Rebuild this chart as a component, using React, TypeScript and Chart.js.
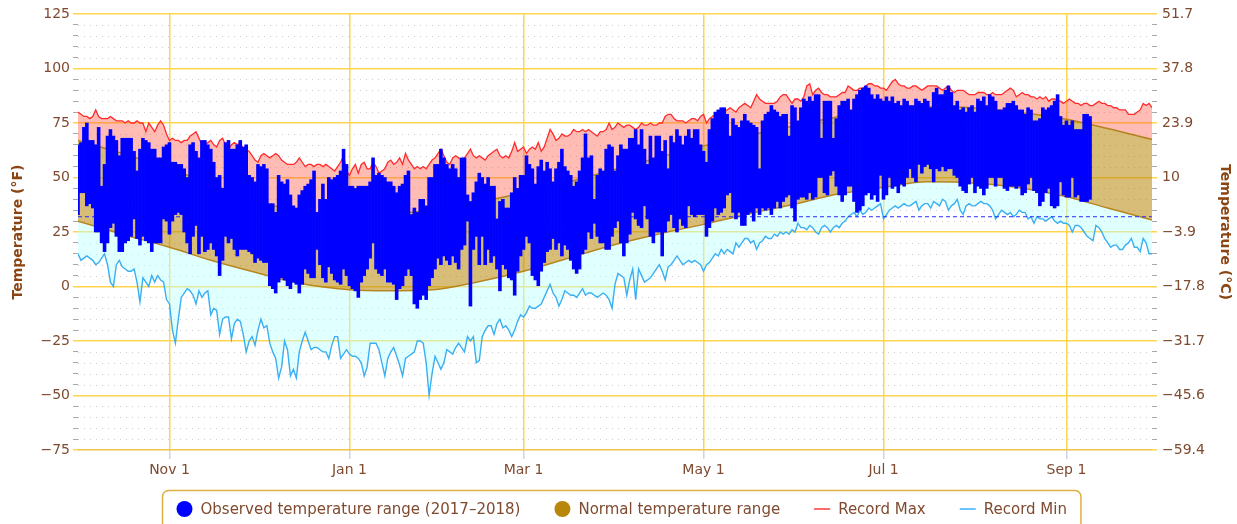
import React, { useEffect, useRef } from 'react';
import { Chart, registerables } from 'chart.js';

Chart.register(...registerables);

// ---------- DATA (day index 0 = Oct 1 2017, 364 = Sep 30 2018) ----------
const DAY_COUNT = 365;

const OBS_HIGH = [
  65,66,73,75,67,67,65,73,46,56, 69,72,69,67,60,68,68,68,68,62,
  53,63,68,67,66,63,63,59,59,64, 65,66,57,57,56,56,54,50,65,66,
  62,59,67,67,65,63,57,50,51,45, 66,67,63,63,65,67,64,
  65,51,50,48,56,55,56,54,38,38, 34,51,48,47,49,42,37,36,42,44,
  46,47,49,53,34,40,47,40,50,49, 50,51,53,63,56,46,46,45,46,46,
  46,46,48,59,51,52,51,50,48,48, 46,43,46,47,51,53,33,36,
  34,40,40,37,50,50,56,56,63,59, 56,54,56,54,50,59,59,42,39,43,
  48,52,50,47,50,46,46,31,39,40, 36,36,43,50,45,51,51,60,56,54,
  47,55,58,53,57,54,48,54,57,63, 55,53,51,46,48,53,59,
  70,59,60,40,51,54,53,63,65,64, 53,60,65,63,63,68,68,72,65,72,
  63,56,69,59,69,69,62,67,54,69, 66,72,69,65,69,72,68,72,72,65,
  62,57,72,77,80,81,82,82,79,69, 77,74,73,76,79,76,75,
  74,73,54,76,79,80,83,81,80,78, 79,79,69,83,82,76,82,86,85,87,
  85,88,88,68,85,85,85,68,77,83, 85,85,86,81,86,88,90,91,92,91,
  88,86,88,86,85,87,85,87,84,85, 83,86,85,83,83,86,85,
  84,86,
  85,82,89,91,88,88,90,92,89,83, 85,81,82,80,82,83,80,86,85,87,
  83,88,87,85,81,81,82,84,84,85, 83,81,81,79,82,81,76,76,77,82,
  81,82,83,85,88,78,74,76,74,76, 72,72,72,79,79,78,
];

const OBS_LOW = [
  33,43,43,37,38,36,25,25,20,16, 20,27,29,23,16,16,20,21,23,31,
  22,19,23,21,20,16,20,20,20,31, 30,24,30,33,34,33,25,20,15,23,
  28,15,23,16,17,20,17,14,5,12, 23,20,22,17,14,17,17,
  17,16,15,11,13,12,11,11,0,-1, -3,2,4,3,0,-1,2,1,-3,1,
  8,6,4,4,17,10,4,2,9,6, 3,2,1,8,5,0,-1,-2,-5,2,
  5,8,13,20,8,6,5,8,2,2, 1,-6,-1,0,5,8,5,-8,
  -10,-6,-4,-6,0,4,8,13,10,14, 12,10,14,11,8,17,19,30,-9,17,
  23,10,23,10,17,11,14,8,-2,10, 8,4,3,-4,7,14,17,23,20,5,
  3,0,7,11,16,17,22,17,20,14, 19,17,12,8,6,8,15,
  17,25,22,29,23,20,20,17,17,23, 27,30,20,14,20,24,34,31,28,27,
  37,31,23,20,25,25,14,25,30,33, 27,25,31,28,27,37,33,32,33,33,
  33,23,27,30,36,33,34,36,42,43, 34,31,34,28,28,33,34,
  30,36,33,36,35,36,33,36,39,36, 39,41,42,36,30,40,41,41,40,43,
  40,41,50,50,43,42,51,53,46,42, 39,42,46,46,39,34,35,37,42,43,
  40,42,39,51,40,42,50,45,46,43, 47,46,50,54,50,48,56,
  52,55,
  56,54,48,54,53,55,53,54,54,51, 50,46,44,43,47,50,43,46,45,42,
  45,50,50,46,50,50,45,44,46,46, 45,46,42,43,47,50,44,43,37,39,
  43,45,37,36,37,48,42,41,41,50, 41,42,39,39,39,40,
];

const RECORD_MAX = [
  80,79,78,78,77,78,81,78,77,77, 77,78,77,76,76,76,75,76,75,75,
  76,75,75,71,75,73,71,74,76,74, 70,67,68,67,67,66,67,67,69,70,
  71,68,65,65,66,67,65,64,67,68, 65,63,65,66,65,66,63,63,62,60,
  58,57,60,61,60,59,60,61,60,58, 57,56,56,56,57,59,57,55,56,56,
  55,56,56,55,56,55,54,53,55,57, 60,53,51,54,56,52,56,57,54,54,
  57,55,52,53,54,57,58,56,57,59, 56,61,58,56,54,55,54,55,54,56,
  58,59,61,63,60,57,56,59,60,59, 58,59,61,63,60,59,60,59,58,60,
  61,62,63,60,59,60,59,62,66,62, 63,64,61,63,64,63,66,62,64,68,
  72,70,67,68,70,69,69,70,72,71, 71,72,71,72,71,70,69,71,71,72,
  75,72,73,75,74,73,74,74,73,72, 73,75,74,74,75,74,74,75,75,78,
  79,79,77,76,76,76,75,76,77,77, 76,78,79,75,77,78,79,79,79,80,
  81,82,81,80,82,83,84,83,82,85, 88,86,85,84,84,84,84,85,87,88,
  88,86,84,86,86,85,87,92,93,88, 90,91,89,88,88,87,87,87,88,89,
  89,92,91,90,90,91,91,92,93,93, 92,92,91,91,90,92,94,95,93,92,
  92,91,91,92,92,91,90,91,92,92, 92,92,91,90,91,92,90,89,90,90,
  90,89,88,88,88,89,89,89,88,88, 89,88,88,88,89,90,91,90,87,88,
  89,88,88,87,87,86,87,86,87,85, 86,86,85,85,84,85,86,85,84,84,
  83,84,84,83,83,84,85,84,84,83, 83,82,82,81,81,81,79,79,79,80,
  81,84,83,84,82,
];

const RECORD_MIN = [
  15,12,13,14,13,12,10,11,13,15, 10,2,0,10,12,9,8,7,7,8,
  2,-7,4,2,0,5,2,5,3,2, -6,-8,-20,-26,-15,-5,-3,-1,-2,-4,
  -8,-2,-5,-3,-2,-13,-10,-11,-22,-15, -14,-14,-24,-17,-15,-16,-22,-30,-25,-23,
  -27,-20,-15,-19,-18,-26,-30,-33,-42,-37, -25,-29,-41,-38,-42,-30,-25,-21,-25,-29,
  -28,-28,-29,-30,-30,-33,-27,-23,-23,-33, -31,-29,-31,-32,-32,-33,-35,-41,-37,-26,
  -26,-26,-29,-35,-41,-33,-30,-28,-32,-36, -41,-33,-32,-31,-30,-25,-25,-26,-35,-50,
  -40,-32,-35,-38,-35,-29,-30,-31,-28,-26, -28,-30,-23,-25,-23,-35,-34,-23,-20,-18,
  -18,-22,-17,-15,-19,-18,-20,-23,-20,-16, -13,-14,-12,-9,-10,-10,-9,-8,-5,-2,
  1,-3,-5,-9,-6,-2,-3,-4,-4,-5, -3,-1,-4,-3,-3,-4,-5,-4,-3,-4,
  -6,-10,1,6,5,4,-4,3,8,-6, 8,5,2,3,4,6,8,10,7,3,
  9,10,12,14,12,10,11,12,11,12, 11,10,7,10,11,13,15,14,17,15,
  17,16,15,20,18,20,22,22,20,21, 17,20,21,23,22,22,24,23,25,24,
  25,24,26,25,29,27,27,26,28,27, 25,24,27,28,27,25,27,28,27,29,
  30,32,33,34,32,35,33,34,36,35, 36,37,38,31,33,35,36,37,36,37,
  38,37,37,38,39,35,37,38,38,36, 39,38,37,40,39,35,37,38,40,35,
  33,37,38,37,37,38,39,38,38,37, 35,31,33,35,34,33,34,32,33,35,
  34,34,31,32,29,32,31,31,30,31, 32,30,29,30,29,29,28,25,28,28,
  27,25,23,22,21,28,27,25,22,20, 18,19,19,17,17,19,20,22,18,18,
  16,22,20,15,15,
];

const NORMAL_DAYS = [0, 15, 31, 45, 60, 75, 92, 105, 120, 135, 151, 165, 180, 195, 212, 228, 242, 258, 273, 288, 303, 318, 334, 349, 364];
const NORMAL_HIGH = [67, 61, 54, 47, 39.5, 34.5, 33, 33.5, 35, 38.5, 43, 47.5, 53, 58.5, 64.5, 69.5, 73.5, 78, 81, 82.5, 82, 80, 77, 72.5, 67.5];
const NORMAL_LOW = [30, 24, 18, 12, 6.5, 1.5, -1.5, -2, -1.5, 2, 7, 12.5, 18.5, 23.5, 28.5, 33.5, 37.5, 42.5, 45.5, 48, 47.5, 45.5, 41.5, 36, 30.5];

const FREEZING_F = 32;

const X_TICK_DAYS = [31, 92, 151, 212, 273, 335];
const X_TICK_LABELS = ['Nov 1', 'Jan 1', 'Mar 1', 'May 1', 'Jul 1', 'Sep 1'];

const Y_MIN = -75;
const Y_MAX = 125;
const Y_STEP = 5;
const Y_MAJOR = 25;

const LABEL_OBSERVED = 'Observed temperature range (2017–2018)';
const LABEL_NORMAL = 'Normal temperature range';
const LABEL_REC_MAX = 'Record Max';
const LABEL_REC_MIN = 'Record Min';

// ---------- STYLE ----------
const FONT = '"DejaVu Sans", sans-serif';
const LABEL_BROWN = '#7F4A2F';
const TITLE_BROWN = '#8B4513';
const GRID_YELLOW = '#FFD54F';
const MINOR_TICK = '#A8A8A8';

const minus = (s: string) => s.replace('-', '\u2212');
const fmtF = (v: number) => minus(String(v));
const fmtC = (v: number) => {
  let s = (((v - 32) * 5) / 9).toFixed(1);
  if (s.endsWith('.0')) s = s.slice(0, -2);
  return minus(s);
};
const isMajor = (c: any) => !!c.tick && c.tick.value % Y_MAJOR === 0;

const minorGridPlugin = {
  id: 'minorGrid',
  beforeDatasetsDraw(chart: any) {
    const { ctx, chartArea, scales } = chart;
    const y = scales.y;
    ctx.save();
    ctx.strokeStyle = 'rgba(140,140,140,0.45)';
    ctx.lineWidth = 1;
    ctx.setLineDash([1, 5]);
    for (const t of y.ticks) {
      if (t.value % Y_MAJOR === 0) continue;
      const py = Math.round(y.getPixelForValue(t.value)) + 0.5;
      ctx.beginPath();
      ctx.moveTo(chartArea.left, py);
      ctx.lineTo(chartArea.right, py);
      ctx.stroke();
    }
    ctx.restore();
  },
};

const legendPlugin = {
  id: 'boxLegend',
  afterDraw(chart: any) {
    const { ctx } = chart;
    const items = [
      { label: LABEL_OBSERVED, kind: 'circle', color: '#0000FF' },
      { label: LABEL_NORMAL, kind: 'circle', color: '#B8860B' },
      { label: LABEL_REC_MAX, kind: 'line', color: '#FF6A6A' },
      { label: LABEL_REC_MIN, kind: 'line', color: '#6CC4FF' },
    ];
    ctx.save();
    ctx.font = `15px ${FONT}`;
    const symW = 16;
    const symGap = 8;
    const itemGap = 34;
    const widths = items.map((it) => ctx.measureText(it.label).width);
    const total = widths.reduce((a: number, w: number) => a + symW + symGap + w, 0) + itemGap * (items.length - 1);
    const padX = 14;
    const boxW = total + padX * 2;
    const cx = 621;
    const boxL = Math.round(cx - boxW / 2) + 0.5;
    const boxT = 490.5;
    const boxH = 44;
    const r = 6;
    ctx.beginPath();
    ctx.moveTo(boxL + r, boxT);
    ctx.lineTo(boxL + boxW - r, boxT);
    ctx.arcTo(boxL + boxW, boxT, boxL + boxW, boxT + r, r);
    ctx.lineTo(boxL + boxW, boxT + boxH - r);
    ctx.arcTo(boxL + boxW, boxT + boxH, boxL + boxW - r, boxT + boxH, r);
    ctx.lineTo(boxL + r, boxT + boxH);
    ctx.arcTo(boxL, boxT + boxH, boxL, boxT + boxH - r, r);
    ctx.lineTo(boxL, boxT + r);
    ctx.arcTo(boxL, boxT, boxL + r, boxT, r);
    ctx.closePath();
    ctx.strokeStyle = '#DDB044';
    ctx.lineWidth = 1.5;
    ctx.stroke();

    const cy = 509;
    let x = boxL + padX;
    items.forEach((it, i) => {
      if (it.kind === 'circle') {
        ctx.beginPath();
        ctx.arc(x + symW / 2, cy, 8, 0, Math.PI * 2);
        ctx.fillStyle = it.color;
        ctx.fill();
      } else {
        ctx.beginPath();
        ctx.moveTo(x, cy);
        ctx.lineTo(x + symW, cy);
        ctx.strokeStyle = it.color;
        ctx.lineWidth = 2;
        ctx.stroke();
      }
      ctx.fillStyle = LABEL_BROWN;
      ctx.textBaseline = 'middle';
      ctx.textAlign = 'left';
      ctx.fillText(it.label, x + symW + symGap, cy + 1);
      x += symW + symGap + widths[i] + itemGap;
    });
    ctx.restore();
  },
};

export default function App() {
  const ref = useRef<HTMLCanvasElement>(null);

  useEffect(() => {
    document.body.style.margin = '0';
    document.body.style.background = '#ffffff';
    Chart.defaults.font.family = FONT;

    const normalLine = (vals: number[]) => NORMAL_DAYS.map((d, i) => ({ x: d, y: vals[i] }));
    const daily = (vals: number[]) => vals.map((v, i) => ({ x: i, y: v }));

    const chart = new Chart(ref.current as HTMLCanvasElement, {
      type: 'line',
      data: {
        datasets: [
          {
            type: 'bar',
            label: LABEL_OBSERVED,
            data: OBS_HIGH.map((h, i) => ({ x: i, y: [OBS_LOW[i], h] })) as any,
            backgroundColor: '#0000FF',
            borderWidth: 0,
            barPercentage: 1,
            categoryPercentage: 1,
            order: 1,
          } as any,
          {
            label: 'Freezing',
            data: [{ x: 0, y: FREEZING_F }, { x: DAY_COUNT - 1, y: FREEZING_F }],
            borderColor: '#2B2BFF',
            borderWidth: 1,
            borderDash: [4, 3],
            pointRadius: 0,
            fill: false,
            order: 2,
          },
          {
            label: LABEL_NORMAL,
            data: normalLine(NORMAL_HIGH),
            borderColor: 'rgba(176,122,18,0.9)',
            borderWidth: 1.5,
            pointRadius: 0,
            cubicInterpolationMode: 'monotone',
            fill: { target: 3 },
            backgroundColor: 'rgba(184,134,11,0.55)',
            order: 3,
          },
          {
            label: 'Normal Low',
            data: normalLine(NORMAL_LOW),
            borderColor: 'rgba(176,122,18,0.9)',
            borderWidth: 1.5,
            pointRadius: 0,
            cubicInterpolationMode: 'monotone',
            fill: false,
            order: 3,
          },
          {
            label: LABEL_REC_MAX,
            data: daily(RECORD_MAX),
            borderColor: '#FF2B2B',
            borderWidth: 1.3,
            pointRadius: 0,
            tension: 0,
            fill: { target: 2 },
            backgroundColor: 'rgba(255,80,60,0.38)',
            order: 4,
          },
          {
            label: LABEL_REC_MIN,
            data: daily(RECORD_MIN),
            borderColor: '#3AAFF2',
            borderWidth: 1.4,
            pointRadius: 0,
            tension: 0,
            fill: { target: 3 },
            backgroundColor: 'rgba(190,255,255,0.48)',
            order: 5,
          },
        ] as any,
      },
      options: {
        responsive: false,
        animation: false,
        events: [],
        layout: { padding: { top: 14, bottom: 34, left: 0, right: 0 } },
        plugins: {
          legend: { display: false },
          tooltip: { enabled: false },
        },
        scales: {
          x: {
            type: 'linear',
            min: 0,
            max: DAY_COUNT - 1,
            offset: false,
            afterBuildTicks: (s: any) => {
              s.ticks = X_TICK_DAYS.map((v) => ({ value: v }));
            },
            afterFit: (s: any) => {
              s.height = 40;
            },
            ticks: {
              autoSkip: false,
              maxRotation: 0,
              color: LABEL_BROWN,
              font: { family: FONT, size: 14 },
              padding: 3,
              callback: (v: any) => {
                const i = X_TICK_DAYS.indexOf(Number(v));
                return i >= 0 ? X_TICK_LABELS[i] : '';
              },
            },
            grid: {
              color: GRID_YELLOW,
              lineWidth: 1.5,
              tickColor: '#C9D5EA',
              tickLength: 9,
              offset: false,
            },
            border: { display: false },
          },
          y: {
            type: 'linear',
            position: 'left',
            min: Y_MIN,
            max: Y_MAX,
            afterFit: (s: any) => {
              s.width = 78;
            },
            ticks: {
              stepSize: Y_STEP,
              autoSkip: false,
              color: LABEL_BROWN,
              font: { family: FONT, size: 14 },
              padding: 3,
              callback: (v: any) => (Number(v) % Y_MAJOR === 0 ? fmtF(Number(v)) : ''),
            },
            grid: {
              color: (c: any) => (isMajor(c) ? (c.tick.value === Y_MIN ? '#EFC24A' : GRID_YELLOW) : 'rgba(0,0,0,0)'),
              lineWidth: (c: any) => (isMajor(c) ? 1.5 : 1),
              tickColor: (c: any) => (isMajor(c) ? GRID_YELLOW : MINOR_TICK),
              tickLength: 5,
            },
            border: { display: false },
            title: {
              display: true,
              text: 'Temperature (°F)',
              color: TITLE_BROWN,
              font: { family: FONT, size: 14, weight: 'bold' },
              padding: { top: 10, bottom: 0 },
            },
          },
          y2: {
            type: 'linear',
            position: 'right',
            min: Y_MIN,
            max: Y_MAX,
            afterFit: (s: any) => {
              s.width = 85;
            },
            ticks: {
              stepSize: Y_STEP,
              autoSkip: false,
              color: LABEL_BROWN,
              font: { family: FONT, size: 14 },
              padding: 5,
              callback: (v: any) => (Number(v) % Y_MAJOR === 0 ? fmtC(Number(v)) : ''),
            },
            grid: {
              drawOnChartArea: false,
              lineWidth: (c: any) => (isMajor(c) ? 1.5 : 1),
              tickColor: (c: any) => (isMajor(c) ? GRID_YELLOW : MINOR_TICK),
              tickLength: 5,
            },
            border: { display: false },
            title: {
              display: true,
              text: 'Temperature (°C)',
              color: TITLE_BROWN,
              font: { family: FONT, size: 14, weight: 'bold' },
              padding: { top: 4, bottom: 0 },
            },
          },
        },
      } as any,
      plugins: [minorGridPlugin, legendPlugin],
    });

    return () => chart.destroy();
  }, []);

  return (
    <div style={{ width: 1237, height: 524, background: '#fff', overflow: 'hidden' }}>
      <canvas ref={ref} width={1237} height={524} style={{ display: 'block' }} />
    </div>
  );
}
